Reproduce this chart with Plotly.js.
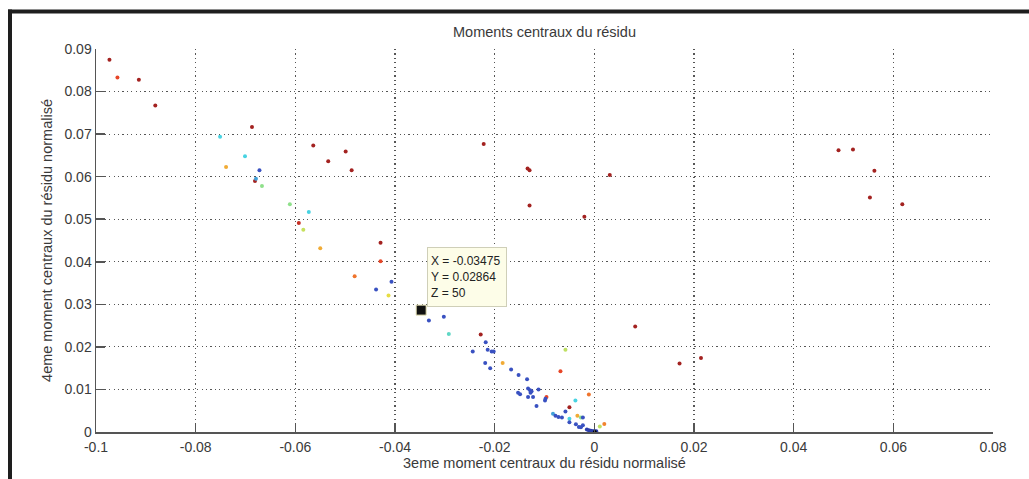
<!DOCTYPE html>
<html>
<head>
<meta charset="utf-8">
<script src="https://cdn.plot.ly/plotly-3.0.1.min.js"></script>
<style>html,body{margin:0;padding:0;background:#fff;}#chart{width:1029px;height:479px;}</style>
</head>
<body>
<div id="chart"></div>
<script>
// 3rd central moment (x), 4th central moment (y), colour level z (jet-like scale, 0-100)
const moment3 = [
  -0.0973,-0.0914,-0.0881,-0.0687,-0.0681,-0.0564,-0.0534,-0.0499,-0.0487,-0.0429,
  -0.0222,-0.0134,-0.0130,-0.0130,-0.0020,0.0031,0.0490,0.0519,0.0562,0.0553,
  0.0618,0.0082,0.0171,0.0214,-0.0228,-0.0050,-0.0593,
  -0.0957,-0.0429,-0.0068,-0.0096,
  -0.0481,-0.0011,0.0020,
  -0.0739,-0.0550,-0.0184,-0.0034,
  -0.0413,-0.0584,
  -0.0058,0.0011,
  -0.0667,-0.0611,-0.0027,
  -0.0292,
  -0.0751,-0.0701,-0.0573,-0.0038,-0.0050,
  -0.0679,-0.0083,
  -0.0672,-0.0407,-0.0438,-0.0332,-0.0302,-0.0218,-0.0244,-0.0214,-0.0206,-0.0202,
  -0.0219,-0.0209,-0.0167,-0.0152,-0.0135,-0.0133,-0.0129,-0.0126,-0.0128,-0.0112,
  -0.0153,-0.0149,-0.0133,-0.0123,-0.0116,-0.0099,-0.0098,-0.0078,-0.0072,-0.0065,
  -0.0058,-0.0050,-0.0023,-0.0037,-0.0031,-0.0027,-0.0023,-0.03475,
  -0.0015,-0.0011,-0.0007,-0.0004,-0.0002,0.0000,0.0002,0.0004,-0.0009,0.0001
];
const moment4 = [
  0.0875,0.0828,0.0767,0.0717,0.0590,0.0673,0.0636,0.0659,0.0615,0.0445,
  0.0677,0.0619,0.0615,0.0532,0.0506,0.0604,0.0662,0.0664,0.0614,0.0551,
  0.0535,0.0248,0.0161,0.0174,0.0229,0.0058,0.0491,
  0.0833,0.0401,0.0143,0.0082,
  0.0366,0.0088,0.0019,
  0.0623,0.0432,0.0162,0.0038,
  0.0321,0.0475,
  0.0193,0.0013,
  0.0578,0.0535,0.0034,
  0.0230,
  0.0694,0.0648,0.0517,0.0074,0.0031,
  0.0595,0.0043,
  0.0615,0.0353,0.0335,0.0262,0.0271,0.0211,0.0189,0.0193,0.0189,0.0189,
  0.0162,0.0150,0.0147,0.0134,0.0124,0.0102,0.0098,0.0096,0.0092,0.0100,
  0.0092,0.0089,0.0082,0.0082,0.0061,0.0074,0.0078,0.0038,0.0035,0.0034,
  0.0048,0.0023,0.0034,0.0018,0.0012,0.0011,0.0016,0.02864,
  0.0006,0.0004,0.0003,0.0002,0.0001,0.0002,0.0001,0.0002,0.0001,0.0000
];
const level = [
  97,97,97,97,97,97,97,97,97,97,
  97,97,97,97,97,97,97,97,97,97,
  97,97,97,97,97,97,92,
  86,86,86,86,
  80,80,78,
  72,72,72,72,
  63,58,
  57,57,
  50,50,50,
  42,
  38,38,38,38,38,
  28,28,
  12,12,12,12,12,12,12,12,12,
  12,12,12,12,12,12,12,12,12,12,
  12,12,12,12,12,12,12,12,12,12,
  12,12,12,12,12,12,12,12,
  5,5,5,5,5,5,5,5,5,5
];
// data cursor
const cursorX = [-0.03475];
const cursorY = [0.02864];
const cursorZ = [50];

const xTickVals = [-0.1,-0.08,-0.06,-0.04,-0.02,0,0.02,0.04,0.06,0.08];
const xTickText = ['-0.1','-0.08','-0.06','-0.04','-0.02','0','0.02','0.04','0.06','0.08'];
const yTickVals = [0,0.01,0.02,0.03,0.04,0.05,0.06,0.07,0.08,0.09];
const yTickText = ['0','0.01','0.02','0.03','0.04','0.05','0.06','0.07','0.08','0.09'];

const font = 'Liberation Sans, Arial, sans-serif';
const textColor = '#3a3a3a';

const jetLike = [
  [0, '#22309e'], [0.125, '#3a52c2'], [0.375, '#45d2e6'], [0.5, '#8ee08a'],
  [0.625, '#e6e044'], [0.75, '#f59a30'], [0.875, '#e53a26'], [1, '#8e1a1e']
];

const traces = [
  {
    type: 'scatter', mode: 'markers',
    x: moment3, y: moment4,
    marker: {size: 4, color: level, colorscale: jetLike, cmin: 0, cmax: 100, line: {width: 0}},
    hoverinfo: 'x+y'
  },
  {
    type: 'scatter', mode: 'markers',
    x: cursorX, y: cursorY,
    marker: {size: 10, symbol: 'square', color: '#111', line: {width: 1, color: '#e8e4b8'}},
    hoverinfo: 'skip'
  }
];

const axisCommon = {
  showgrid: true, gridcolor: '#555', griddash: '1.2px,3.2px', gridwidth: 1.2,
  zeroline: false, showline: true, linecolor: '#555', linewidth: 1.5,
  ticks: 'inside', ticklen: 9, tickwidth: 1.5, tickcolor: '#555',
  tickfont: {family: font, size: 14, color: textColor},
  tickmode: 'array'
};

const layout = {
  width: 1029, height: 479,
  margin: {l: 96, r: 36, t: 49, b: 47},
  paper_bgcolor: '#fff', plot_bgcolor: '#fff',
  showlegend: false,
  title: {text: 'Moments centraux du résidu', font: {family: font, size: 14.5, color: textColor},
          xref: 'paper', x: 0.5, xanchor: 'center', yref: 'container', y: 1 - 32/479, yanchor: 'middle'},
  xaxis: Object.assign({}, axisCommon, {
    range: [-0.1, 0.08], tickvals: xTickVals, ticktext: xTickText, ticklabelstandoff: 2,
    title: {text: '3eme moment centraux du résidu normalisé', font: {family: font, size: 14.5, color: textColor}, standoff: 1}
  }),
  yaxis: Object.assign({}, axisCommon, {
    range: [0, 0.09], tickvals: yTickVals, ticktext: yTickText,
    title: {text: '4eme moment centraux du résidu normalisé', font: {family: font, size: 14.5, color: textColor}, standoff: 8}
  }),
  annotations: [{
    x: cursorX[0], y: cursorY[0], xref: 'x', yref: 'y',
    text: 'X = ' + cursorX[0] + '<br>Y = ' + cursorY[0] + '<br>Z = ' + cursorZ[0],
    showarrow: false, xanchor: 'left', yanchor: 'bottom', align: 'left', valign: 'middle',
    width: 72, height: 52,
    xshift: 6, yshift: 3,
    bgcolor: '#fdfde8', bordercolor: '#cfcfb8', borderwidth: 1, borderpad: 3,
    font: {family: font, size: 12, color: '#222'}
  }],
  shapes: [
    {type: 'line', xref: 'paper', yref: 'paper', x0: (10 - 96)/897, x1: (10 - 96)/897, y0: (432 - 9.5)/383, y1: (432 - 480)/383,
     line: {color: '#1e1e1e', width: 4}},
    {type: 'line', xref: 'paper', yref: 'paper', x0: (8 - 96)/897, x1: (1030 - 96)/897, y0: (432 - 11.5)/383, y1: (432 - 11.5)/383,
     line: {color: '#1e1e1e', width: 4}}
  ]
};

Plotly.newPlot('chart', traces, layout, {displayModeBar: false, staticPlot: true});
</script>
</body>
</html>
